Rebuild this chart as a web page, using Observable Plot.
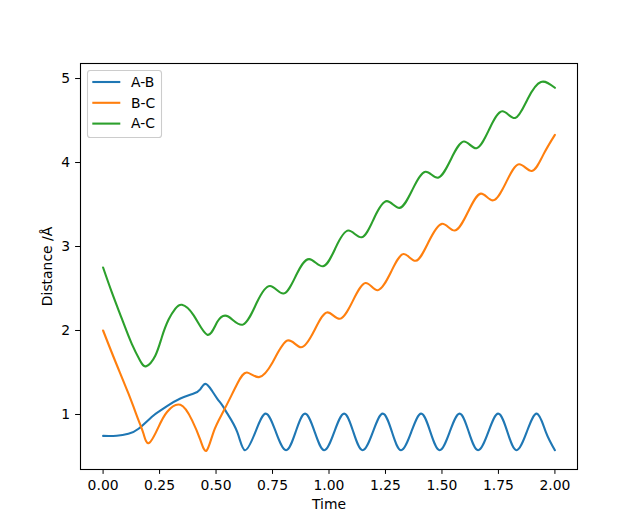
<!DOCTYPE html>
<html><head><meta charset="utf-8">
<script src="https://cdn.jsdelivr.net/npm/d3@7"></script>
<script src="https://cdn.jsdelivr.net/npm/@observablehq/plot@0.6"></script>
<style>body{margin:0;background:#fff} svg{display:block}</style>
</head><body><div id="chart"></div>
<script>
const seriesNames = ["A-B", "B-C", "A-C"];
const seriesColors = ["#1f77b4", "#ff7f0e", "#2ca02c"];

const timeAB = [0.00,0.06,0.112,0.157,0.215,0.25,0.283,0.342,0.401,0.43,0.453,0.48,0.505,0.53,0.55,0.594,0.628,0.674,0.72,
  0.765,0.81,0.852,0.894,0.937,0.979,1.023,1.067,1.108,1.149,1.194,1.238,1.279,1.319,1.364,1.408,1.449,1.49,1.534,1.578,1.619,1.66,1.705,1.749,1.79,1.83,1.875,1.92,1.96,2.00];
const distAB = [0.745,0.747,0.77,0.83,0.97,1.04,1.10,1.19,1.25,1.30,1.365,1.29,1.19,1.10,1.01,0.79,0.575,0.79,1.01,
  0.79,0.575,0.79,1.01,0.79,0.575,0.79,1.01,0.79,0.575,0.79,1.01,0.79,0.575,0.79,1.01,0.79,0.575,0.79,1.01,0.79,0.575,0.79,1.01,0.79,0.575,0.79,1.01,0.79,0.575];

const timeBC = [0.00,0.053,0.112,0.157,0.179,0.203,0.245,0.283,0.342,0.394,0.43,0.458,0.49,0.535,0.594,0.637,0.69,0.75,0.816,0.876,0.935,0.991,1.048,1.105,1.162,1.216,1.275,1.33,1.384,1.44,1.50,1.557,1.615,1.672,1.727,1.785,1.841,1.898,1.95,2.00];
const distBC = [2.00,1.64,1.25,0.93,0.77,0.66,0.85,1.03,1.115,0.93,0.70,0.57,0.80,1.05,1.365,1.50,1.445,1.62,1.88,1.80,2.00,2.215,2.14,2.35,2.565,2.48,2.70,2.91,2.83,3.05,3.27,3.19,3.41,3.63,3.55,3.77,3.98,3.90,4.10,4.33];

const timeAC = [0.00,0.038,0.083,0.127,0.164,0.191,0.231,0.26,0.29,0.32,0.349,0.401,0.461,0.505,0.554,0.619,0.68,0.739,0.799,0.855,0.912,0.974,1.03,1.086,1.145,1.20,1.256,1.313,1.37,1.427,1.483,1.54,1.597,1.653,1.71,1.767,1.824,1.88,1.938,2.00];
const distAC = [2.75,2.46,2.14,1.84,1.64,1.575,1.70,1.92,2.13,2.26,2.306,2.18,1.95,2.10,2.167,2.07,2.33,2.53,2.44,2.66,2.85,2.765,2.99,3.19,3.11,3.34,3.54,3.46,3.68,3.89,3.82,4.04,4.25,4.17,4.40,4.61,4.53,4.76,4.96,4.89];

const xTicks = [0, 0.25, 0.5, 0.75, 1, 1.25, 1.5, 1.75, 2];
const yTicks = [1, 2, 3, 4, 5];

const seriesTimes = [timeAB, timeBC, timeAC];
const seriesDists = [distAB, distBC, distAC];
const rows = [];
seriesNames.forEach((name, i) => {
  seriesTimes[i].forEach((t, j) => rows.push({series: name, t, v: seriesDists[i][j]}));
});

const plot = Plot.plot({
  width: 640, height: 527,
  marginLeft: 80, marginRight: 63, marginTop: 63, marginBottom: 58,
  style: {fontFamily: "DejaVu Sans", fontSize: "13.9px", color: "#000", background: "#fff"},
  x: {domain: [-0.1, 2.1], ticks: xTicks, tickFormat: d3.format(".2f"), label: "Time",
      labelAnchor: "center", labelArrow: "none", labelOffset: 39, tickSize: 4.9, tickPadding: 6},
  y: {domain: [0.345, 5.179], ticks: yTicks, tickFormat: d3.format("d"), label: "Distance /Å",
      labelAnchor: "center", labelArrow: "none", labelOffset: 38, tickSize: 4.9, tickPadding: 5.5},
  color: {domain: seriesNames, range: seriesColors},
  marks: [
    Plot.line(rows, {x: "t", y: "v", stroke: "series", z: "series", curve: "natural", strokeWidth: 2.1}),
    Plot.frame({stroke: "#000", strokeWidth: 1.1})
  ]
});

const svg = d3.select(plot);
const lg = svg.append("g").attr("font-family", "DejaVu Sans").attr("font-size", "13.9px").attr("text-anchor", "start");
lg.append("rect").attr("x", 87.5).attr("y", 70.5).attr("width", 74).attr("height", 67)
  .attr("rx", 2.8).attr("fill", "#fff").attr("fill-opacity", 0.8).attr("stroke", "#ccc").attr("stroke-width", 1.1);
seriesNames.forEach((name, i) => {
  const y = 82 + i * 20.8;
  lg.append("line").attr("x1", 92.3).attr("x2", 120.3).attr("y1", y).attr("y2", y)
    .attr("stroke", seriesColors[i]).attr("stroke-width", 2.1);
  lg.append("text").attr("x", 131).attr("y", y).attr("dy", "0.35em").attr("fill", "#000")
    .attr("text-anchor", "start").text(name);
});

document.getElementById("chart").appendChild(plot);
</script>
</body></html>
